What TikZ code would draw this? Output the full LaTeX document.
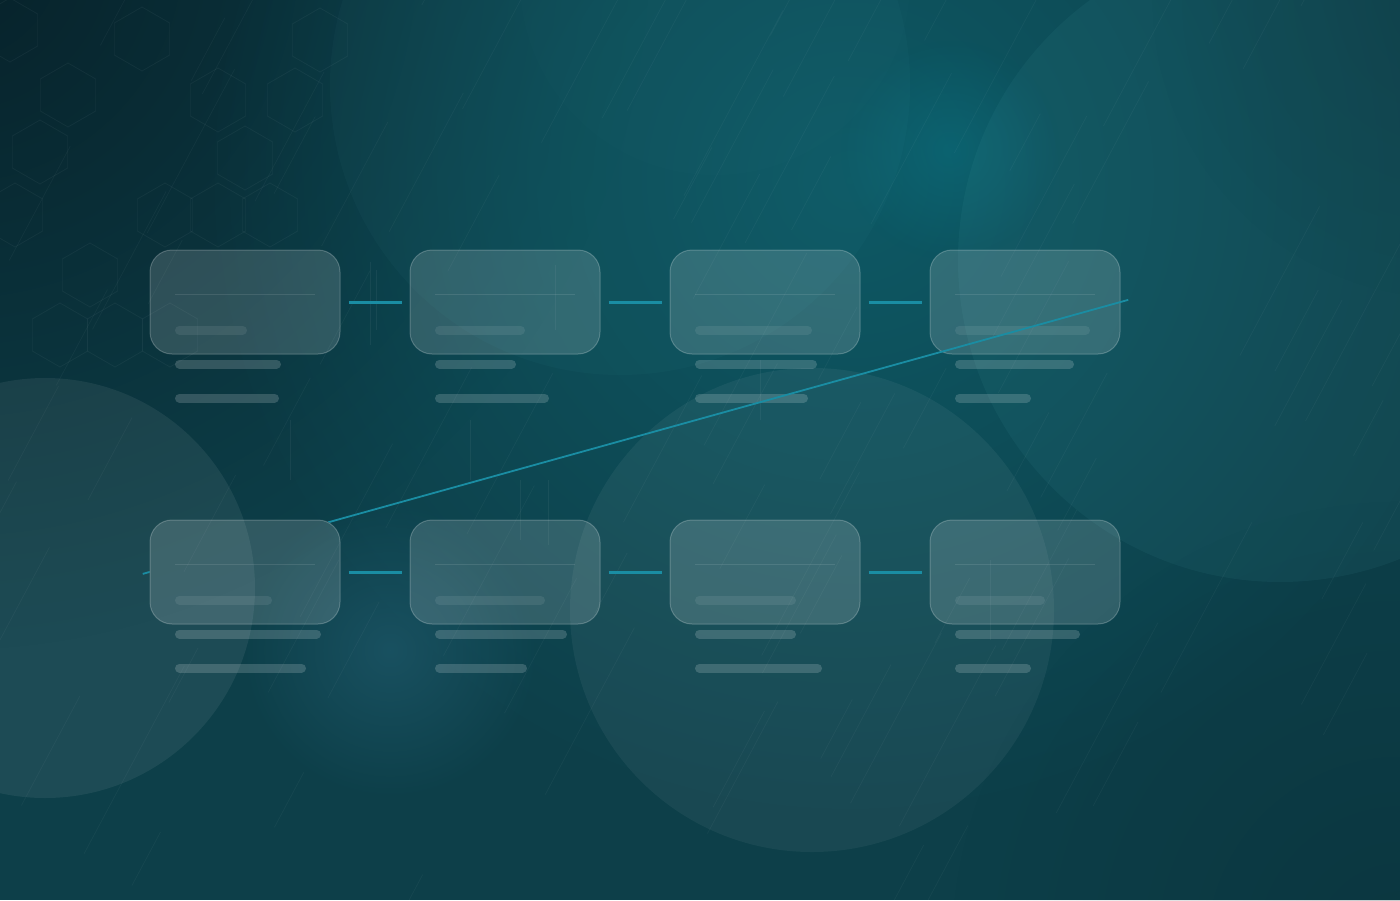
\documentclass[tikz,border=0pt]{standalone}
\usetikzlibrary{fadings}
\definecolor{bgbase}{HTML}{0D3F49}
\definecolor{bgdark}{HTML}{061C24}
\definecolor{bgteal}{HTML}{0D5C68}
\definecolor{tealspot}{HTML}{0A7888}
\definecolor{blueglow}{HTML}{2B6C84}
\definecolor{disctint}{HTML}{58B4BC}
\definecolor{link}{HTML}{1A8DA3}
\tikzfading[name=glow, inner color=transparent!0, outer color=transparent!100]
\pgfdeclarelayer{front}
\pgfsetlayers{main,front}
\tikzset{
  cardbox/.style={draw=white, draw opacity=0.22, fill=white, fill opacity=0.15,
    line width=1pt, rounded corners=22pt, minimum width=190pt, minimum height=104pt,
    inner sep=0pt, text opacity=1},
  divline/.style={draw=white, opacity=0.10, line width=1pt},
  innerbar/.style={draw=white, opacity=0.08, line width=9pt, line cap=round},
  barline/.style={draw=white, opacity=0.17, line width=9pt, line cap=round},
  linkline/.style={draw=link, line width=3pt, shorten <=8pt, shorten >=8pt},
  wrapline/.style={draw=link, line width=1.8pt, shorten <=-8pt, shorten >=-7pt},
  hexline/.style={draw=white, opacity=0.045, line width=0.8pt},
  rain/.style={draw=white, opacity=0.04, line width=0.7pt},
}
\newcommand{\mycard}[6]{%
  \node[cardbox] (#1) at (#2+95,#3+52) {};
  \draw[divline] (#2+25,#3+44) -- (#2+165,#3+44);
  \draw[innerbar] (#2+29.5,#3+80) -- (#2+25+#4-4.5,#3+80);
  \draw[barline] (#2+29.5,#3+114) -- (#2+25+#5-4.5,#3+114);
  \draw[barline] (#2+29.5,#3+148) -- (#2+25+#6-4.5,#3+148);
}
\newcommand{\myhex}[2]{%
  \draw[hexline] (#1+27.7,#2-16) -- (#1,#2-32) -- (#1-27.7,#2-16) -- (#1-27.7,#2+16) -- (#1,#2+32) -- (#1+27.7,#2+16) -- cycle;
}
\begin{document}
\begin{tikzpicture}[x=1pt,y=-1pt]
\useasboundingbox (0,0) rectangle (1400,900);
% background
\fill[bgbase] (0,0) rectangle (1400,900);
\fill[bgdark, opacity=0.85, path fading=glow] (-50,-50) circle (700);
\fill[bgteal, opacity=0.9, path fading=glow] (850,180) circle (650);
\fill[bgdark, opacity=0.25, path fading=glow] (1400,950) circle (450);
\fill[bgdark, opacity=0.2, path fading=glow] (1450,0) circle (300);
\fill[tealspot, opacity=0.4, path fading=glow] (950,150) circle (110);
\fill[blueglow, opacity=0.4, path fading=glow] (390,650) circle (150);
% discs
\fill[disctint, opacity=0.04] (620,85) circle (290);
\fill[disctint, opacity=0.015] (715,-20) circle (195);
\fill[disctint, opacity=0.07] (1280,260) circle (322);
\fill[white, opacity=0.065] (45,588) circle (210);
\fill[white, opacity=0.05] (812,610) circle (242);
% hexagon pattern
\foreach \hx/\hy in {142/39, 218/100, 40/152, 245/158, 320/40, 15/215, 165/215, 218/215, 270/215, 90/275, 295/100, 60/335, 115/335, 170/335, 10/30, 68/95}{
  \myhex{\hx}{\hy}
}
% faint vertical glitch lines
\foreach \vx/\va/\vb in {370/262/345, 376/270/330, 290/420/480, 470/420/480, 520/480/540, 548/480/545, 555/265/330, 990/560/640, 760/360/420}{
  \draw[draw=white, opacity=0.05, line width=0.8pt] (\vx,\va) -- (\vx,\vb);
}
% rain streaks
\pgfmathsetseed{11}
\foreach \i in {1,...,120}{
  \pgfmathsetmacro\rx{rnd*1700-250}
  \pgfmathsetmacro\ry{rnd*1000}
  \pgfmathsetmacro\rl{60+rnd*160}
  \draw[rain] (\rx,\ry) -- ++(\rl*0.47,-\rl*0.88);
}
% row 1
\mycard{b1}{150}{250}{72}{106}{104}
\mycard{b2}{410}{250}{90}{81}{114}
\mycard{b3}{670}{250}{117}{122}{113}
\mycard{b4}{930}{250}{135}{119}{76}
\draw[linkline] (b1.east) -- (b2.west);
\draw[linkline] (b2.east) -- (b3.west);
\draw[linkline] (b3.east) -- (b4.west);
% row 2 (front layer)
\begin{pgfonlayer}{front}
\mycard{b5}{150}{520}{97}{146}{131}
\mycard{b6}{410}{520}{110}{132}{92}
\mycard{b7}{670}{520}{101}{101}{127}
\mycard{b8}{930}{520}{90}{125}{76}
\draw[linkline] (b5.east) -- (b6.west);
\draw[linkline] (b6.east) -- (b7.west);
\draw[linkline] (b7.east) -- (b8.west);
\end{pgfonlayer}
% wrap connector, hidden behind card b5
\begin{scope}[even odd rule]
  \clip[rounded corners=22pt] (b5.south west) rectangle (b5.north east) [sharp corners] (-20,-20) rectangle (1420,920);
  \draw[wrapline] (b4.east) -- (b5.west);
\end{scope}
\end{tikzpicture}
\end{document}
